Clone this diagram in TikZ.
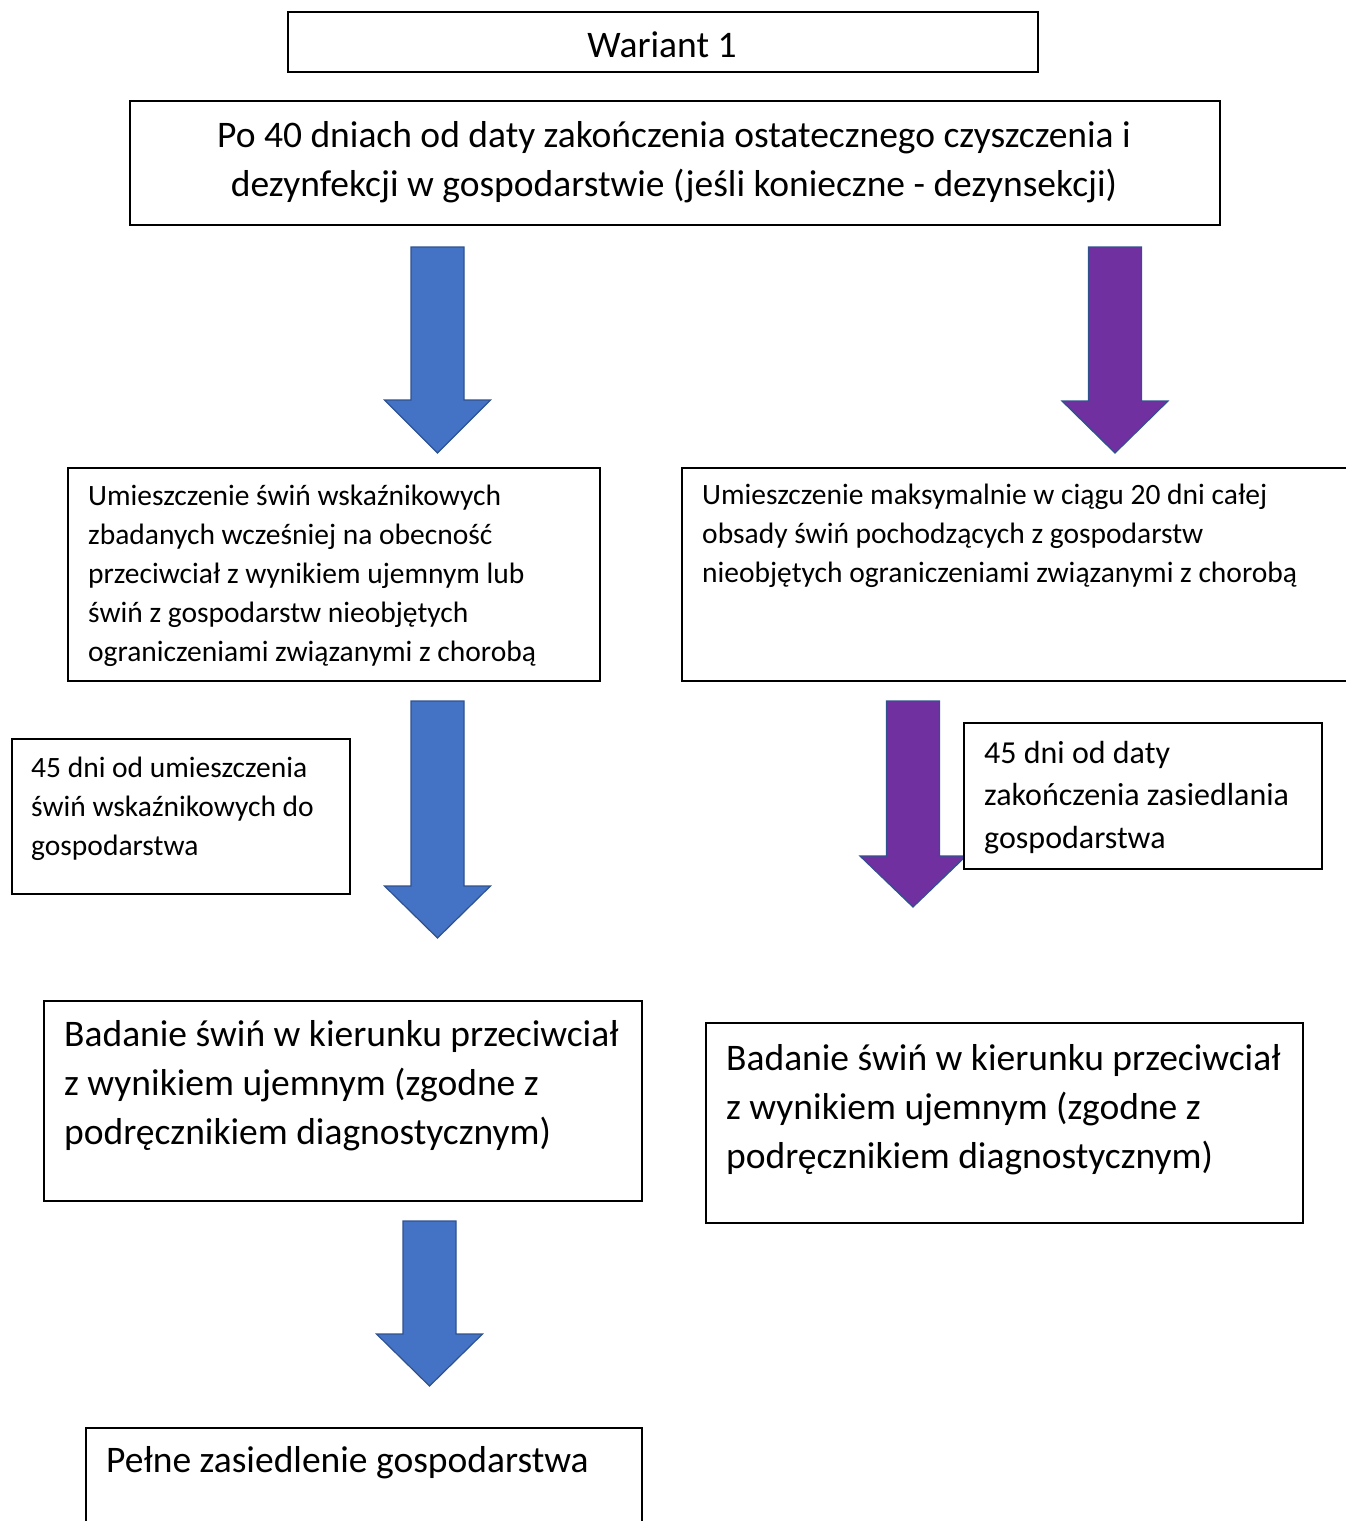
\documentclass[tikz,border=0pt]{standalone}
\usepackage{fontspec}
\setmainfont{Carlito}

\definecolor{armblue}{HTML}{4472C4}
\definecolor{armpurple}{HTML}{7030A0}
\definecolor{armedge}{HTML}{2F528F}

\tikzset{
	box/.style={draw=black, line width=1.5pt, fill=white, anchor=north west, inner sep=0pt},
	bigtxt/.style={inner sep=0pt, font=\fontsize{37.5}{49}\selectfont},
	smalltxt/.style={inner sep=0pt, font=\fontsize{29.5}{39}\selectfont, align=left, anchor=base west},
	blockarrow/.style={fill=#1, draw=armedge, line width=1.2pt, line join=miter},
}

\begin{document}
\begin{tikzpicture}[x=1pt, y=-1pt]
	\useasboundingbox (0,0) rectangle (1346,1521);
	% block arrows: centre x / top / neck / tip / colour
	\foreach \cx/\ytop/\yneck/\ytip/\col in {437.5/247/400/453/armblue, 1115/247/401/453/armpurple,
		437.5/701/886/938/armblue, 913/701/856/907/armpurple, 429.5/1221/1334/1386/armblue}
		\draw[blockarrow=\col] (\cx-26.5,\ytop) -- (\cx+26.5,\ytop) -- (\cx+26.5,\yneck) -- (\cx+53,\yneck)
			-- (\cx,\ytip) -- (\cx-53,\yneck) -- (\cx-26.5,\yneck) -- cycle;

	% frames
	\node[box, minimum width=750pt, minimum height=60pt] (wariant) at (287,11) {};
	\node[box, minimum width=1090pt, minimum height=124pt] (start) at (129,100) {};
	\node[box, minimum width=532pt, minimum height=213pt] (wskaz) at (67,467) {};
	\node[box, minimum width=690pt, minimum height=213pt] (obsada) at (681,467) {};
	\node[box, minimum width=338pt, minimum height=155pt] (czasL) at (11,738) {};
	\node[box, minimum width=358pt, minimum height=146pt] (czasR) at (963,722) {};
	\node[box, minimum width=598pt, minimum height=200pt] (badL) at (43,1000) {};
	\node[box, minimum width=597pt, minimum height=200pt] (badR) at (705,1022) {};
	\node[box, minimum width=556pt, minimum height=120pt] (koniec) at (85,1427) {};

	% texts (base = baseline of the last line)
	\node[bigtxt, anchor=base] (wariantT) at (662,57) {Wariant 1};
	\node[bigtxt, anchor=base, align=center] (startT) at (674,196)
		{Po 40 dniach od daty zakończenia ostatecznego czyszczenia i\\
		dezynfekcji w gospodarstwie (jeśli konieczne - dezynsekcji)};
	\node[smalltxt] (wskazT) at (88,661)
		{Umieszczenie świń wskaźnikowych\\ zbadanych wcześniej na obecność\\
		przeciwciał z wynikiem ujemnym lub\\ świń z gospodarstw nieobjętych\\
		ograniczeniami związanymi z chorobą};
	\node[smalltxt] (obsadaT) at (702,582)
		{Umieszczenie maksymalnie w ciągu 20 dni całej\\ obsady świń pochodzących z gospodarstw\\
		nieobjętych ograniczeniami związanymi z chorobą};
	\node[smalltxt] (czasLT) at (31,855)
		{45 dni od umieszczenia\\ świń wskaźnikowych do\\ gospodarstwa};
	\node[smalltxt, font=\fontsize{32}{42.5}\selectfont] (czasRT) at (984,848)
		{45 dni od daty\\ zakończenia zasiedlania\\ gospodarstwa};
	\node[bigtxt, align=left, anchor=base west] (badLT) at (64,1144)
		{Badanie świń w kierunku przeciwciał\\ z wynikiem ujemnym (zgodne z\\ podręcznikiem diagnostycznym)};
	\node[bigtxt, align=left, anchor=base west] (badRT) at (726,1168)
		{Badanie świń w kierunku przeciwciał\\ z wynikiem ujemnym (zgodne z\\ podręcznikiem diagnostycznym)};
	\node[bigtxt, anchor=base west] (koniecT) at (106,1472) {Pełne zasiedlenie gospodarstwa};
\end{tikzpicture}
\end{document}
